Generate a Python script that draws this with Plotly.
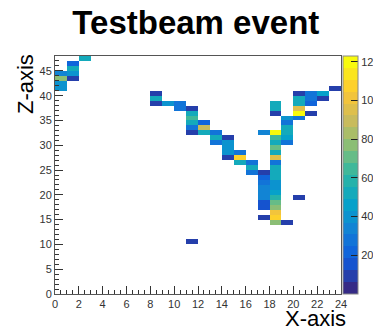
import plotly.graph_objects as go

# ---- data: hit cells (column index, row index, ADC value) ----
hit_x = [2, 1, 1, 1, 1, 0, 0, 0, 0,
         8, 8, 8, 9, 10, 10, 11, 11, 11, 11, 11, 11,
         12, 12, 12, 13, 13, 13, 14, 14, 14, 14, 14,
         15, 15, 15, 16, 16, 16,
         17, 17, 17, 17, 17, 17, 17, 17, 17, 17,
         18, 18, 18, 18, 18, 18, 18, 18, 18, 18, 18, 18, 18, 18, 18, 18, 18, 18, 18, 18, 18, 18,
         19, 19, 19, 19, 19, 19, 19,
         20, 20, 20, 20, 20, 20, 20,
         21, 21, 21, 21, 22, 22, 23, 11]
hit_z = [47, 46, 45, 44, 43, 44, 43, 42, 41,
         40, 39, 38, 38, 38, 37, 37, 36, 35, 34, 33, 32,
         34, 33, 32, 32, 31, 30, 31, 30, 29, 28, 27,
         28, 27, 26, 26, 25, 24,
         32, 24, 23, 22, 21, 20, 19, 18, 17, 15,
         38, 37, 36, 32, 31, 30, 29, 28, 27, 26, 25, 24, 23, 22, 21, 20, 19, 18, 17, 16, 15, 14,
         35, 34, 33, 32, 31, 30, 14,
         40, 39, 38, 37, 36, 35, 19,
         40, 39, 38, 36, 40, 39, 41, 10]
hit_adc = [55, 22, 55, 42, 8, 33, 75, 38, 40,
           8, 50, 8, 42, 25, 25, 8, 55, 65, 52, 25, 8,
           22, 92, 55, 25, 50, 30, 8, 38, 38, 38, 8,
           25, 110, 55, 25, 55, 30,
           35, 8, 22, 25, 35, 35, 35, 18, 18, 8,
           50, 50, 8, 118, 62, 55, 72, 50, 98, 30, 50, 52, 55, 40, 40, 45, 60, 72, 75, 100, 105, 75,
           38, 25, 50, 50, 45, 25, 8,
           8, 55, 50, 95, 118, 25, 8,
           25, 25, 22, 8, 45, 8, 8, 8]

n_x_bins = 24
n_z_bins = 48
x_ticks = list(range(0, 25, 2))
z_ticks = list(range(0, 46, 5))
cbar_ticks = [20, 40, 60, 80, 100, 120]

# ---- build histogram grid ----
grid = [[None] * n_x_bins for _ in range(n_z_bins)]
for xi, zi, v in zip(hit_x, hit_z, hit_adc):
    grid[zi][xi] = v

# ---- ROOT kBird palette, 20 contour bands ----
stops = [0, .125, .25, .375, .5, .625, .75, .875, 1]
red = [0.2082, 0.0592, 0.0780, 0.0232, 0.1802, 0.5301, 0.8186, 0.9956, 0.9764]
green = [0.1664, 0.3599, 0.5041, 0.6419, 0.7178, 0.7492, 0.7328, 0.7862, 0.9832]
blue = [0.5293, 0.8684, 0.8385, 0.7914, 0.6425, 0.4662, 0.3499, 0.1968, 0.0539]

def bird(t):
    for i in range(len(stops) - 1):
        if t <= stops[i + 1]:
            f = (t - stops[i]) / (stops[i + 1] - stops[i])
            r = red[i] + f * (red[i + 1] - red[i])
            g = green[i] + f * (green[i + 1] - green[i])
            b = blue[i] + f * (blue[i + 1] - blue[i])
            return "rgb(%d,%d,%d)" % (r * 255, g * 255, b * 255)
    return "rgb(249,251,14)"

nb = 20
cscale = []
for k in range(nb):
    c = bird(k / (nb - 1))
    cscale.append([k / nb, c])
    cscale.append([(k + 1) / nb, c])

fig = go.Figure(go.Heatmap(
    z=grid, x0=0.5, dx=1, y0=0.5, dy=1,
    zmin=0, zmax=123, colorscale=cscale,
    hoverongaps=False,
    colorbar=dict(
        x=1.007, xanchor="left", xpad=0, y=0.5, yanchor="middle", ypad=0,
        len=1, lenmode="fraction", thickness=15, thicknessmode="pixels",
        outlinewidth=1, outlinecolor="#888",
        ticks="inside", ticklen=7, tickcolor="#222",
        tickvals=cbar_ticks, tickfont=dict(size=11, color="#333", family="Liberation Sans"),
    ),
))

axis_common = dict(
    showgrid=False, zeroline=False, showline=True, linecolor="#555", linewidth=1,
    mirror=True, ticks="inside", tickcolor="#333", ticklen=8,
    tickfont=dict(size=11, color="#333", family="Liberation Sans"),
)

fig.update_layout(
    width=373, height=329,
    margin=dict(l=55, r=32, t=56, b=35, autoexpand=False),
    paper_bgcolor="white", plot_bgcolor="white",
    title=dict(text="Testbeam event", x=0.525, xref="container", xanchor="center",
               y=1 - 22 / 329, yref="container", yanchor="middle",
               font=dict(size=33, color="black", family="Liberation Sans", weight="bold")),
    xaxis=dict(range=[0, 24], tickvals=x_ticks,
               minor=dict(dtick=0.5, ticks="inside", ticklen=4, tickcolor="#333"),
               **axis_common),
    yaxis=dict(range=[0, 48], tickvals=z_ticks,
               minor=dict(dtick=1, ticks="inside", ticklen=4, tickcolor="#333"),
               **axis_common),
    annotations=[
        dict(text="X-axis", xref="paper", yref="paper", x=1.0245, y=-0.105,
             xanchor="right", yanchor="middle", showarrow=False,
             font=dict(size=22, color="black", family="Liberation Sans")),
        dict(text="Z-axis", xref="paper", yref="paper", x=-0.105, y=0.882,
             xanchor="center", yanchor="middle", textangle=-90, showarrow=False,
             font=dict(size=22, color="black", family="Liberation Sans")),
    ],
)

fig.write_html("out.html")
